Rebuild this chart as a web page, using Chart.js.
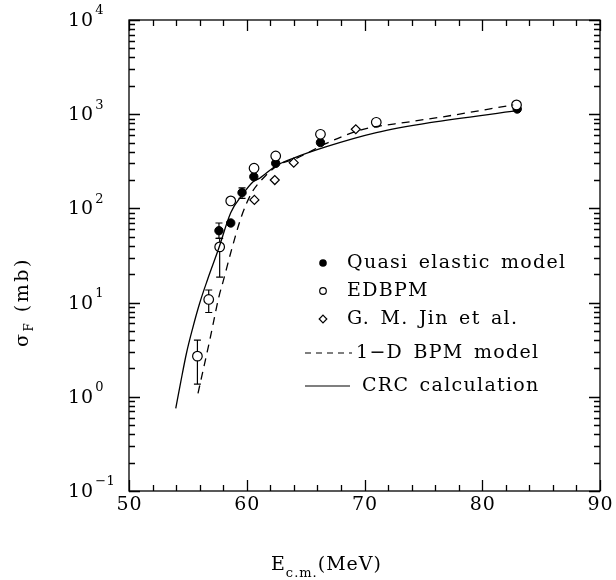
<!DOCTYPE html>
<html><head><meta charset="utf-8">
<script src="https://cdn.jsdelivr.net/npm/chart.js@4"></script>
<style>html,body{margin:0;padding:0;background:#fff}#wrap{width:616px;height:580px}</style>
</head><body><div id="wrap"><canvas id="c" width="616" height="580"></canvas></div>
<script>
// ---- data ----
const quasiE   = [57.64, 58.64, 59.6, 60.6, 62.46, 66.26, 82.97];
const quasiS   = [58, 70, 147, 217, 301, 500, 1135];
const quasiLo  = [48, null, 128, null, null, null, null];
const quasiHi  = [70, null, 165, null, null, null, null];

const edbpmE   = [55.81, 56.77, 57.7, 58.64, 60.62, 62.46, 66.26, 71.0, 82.91];
const edbpmS   = [2.7, 10.8, 39, 120, 267, 360, 612, 820, 1254];
const edbpmLo  = [1.36, 7.85, 18.6, null, null, null, null, null, null];
const edbpmHi  = [4.0, 13.6, 48, null, null, null, null, null, null];

const jinE     = [60.65, 62.38, 63.99, 69.26];
const jinS     = [123, 200, 306, 692];

const bpmE     = [55.86, 56.86, 57.64, 57.99, 58.7, 59.55, 60.4, 61.39, 62.66, 64.22, 66.77, 69.6, 73.85, 76.4, 82.63];
const bpmS     = [1.09, 4.0, 11.6, 16.7, 36, 82, 145, 209, 288, 340, 490, 676, 832, 927, 1254];

const crcE     = [53.97, 54.4, 54.88, 55.4, 56.0, 56.66, 57.6, 58.64, 59.6, 60.54, 61.1, 62.46, 63.93, 66.77, 71.0, 75.55, 82.97];
const crcS     = [0.755, 1.45, 2.9, 5.3, 9.84, 17.4, 37, 90, 138, 192, 209, 282, 340, 452, 637, 813, 1089];

const xMajor = [50, 60, 70, 80, 90];
const yExps  = [-1, 0, 1, 2, 3, 4];

const legendLabels = ["Quasi elastic model", "EDBPM", "G. M. Jin et al.", "1\u2212D BPM model", "CRC calculation"];
const xTitleMain = "E", xTitleSub = "c.m.", xTitleUnit = "(MeV)";
const yTitleMain = "\u03C3", yTitleSub = "F", yTitleUnit = " (mb)";

const pts = (xs, ys) => xs.map((x, i) => ({x: x, y: ys[i]}));
const FONT = '"DejaVu Serif", serif';

function spacing(ctx, ls, ws) {
  ctx.letterSpacing = ls + 'px';
  ctx.wordSpacing = ws + 'px';
}

const decor = {
  id: 'decor',
  beforeDatasetsDraw(chart) {
    const ctx = chart.ctx, xs = chart.scales.x, ys = chart.scales.y;
    ctx.save();
    ctx.strokeStyle = '#000'; ctx.lineWidth = 1.2;
    const bars = [[quasiE, quasiLo, quasiHi], [edbpmE, edbpmLo, edbpmHi]];
    bars.forEach(([E, lo, hi]) => {
      E.forEach((e, i) => {
        if (lo[i] == null) return;
        const px = xs.getPixelForValue(e);
        const y1 = ys.getPixelForValue(lo[i]), y2 = ys.getPixelForValue(hi[i]);
        ctx.beginPath();
        ctx.moveTo(px, y1); ctx.lineTo(px, y2);
        ctx.moveTo(px - 3.5, y1); ctx.lineTo(px + 3.5, y1);
        ctx.moveTo(px - 3.5, y2); ctx.lineTo(px + 3.5, y2);
        ctx.stroke();
      });
    });
    ctx.restore();
  },
  afterDraw(chart) {
    const ctx = chart.ctx, xs = chart.scales.x, ys = chart.scales.y;
    const a = chart.chartArea;
    ctx.save();
    ctx.strokeStyle = '#000'; ctx.fillStyle = '#000'; ctx.lineWidth = 1.3;
    ctx.strokeRect(a.left, a.top, a.right - a.left, a.bottom - a.top);
    ctx.beginPath();
    for (let v = 50; v <= 90; v += 2) {
      const px = Math.round(xs.getPixelForValue(v)) + 0.5;
      const L = (v % 10 === 0) ? 11 : 6;
      ctx.moveTo(px, a.bottom); ctx.lineTo(px, a.bottom - L);
      ctx.moveTo(px, a.top); ctx.lineTo(px, a.top + L);
    }
    for (let e = -1; e <= 4; e++) {
      for (let m = 1; m <= 9; m++) {
        if (e === 4 && m > 1) break;
        const v = m * Math.pow(10, e);
        const py = Math.round(ys.getPixelForValue(v)) + 0.5;
        const L = (m === 1) ? 11 : 6;
        ctx.moveTo(a.left, py); ctx.lineTo(a.left + L, py);
        ctx.moveTo(a.right, py); ctx.lineTo(a.right - L, py);
      }
    }
    ctx.stroke();

    // x tick labels
    ctx.font = '19px ' + FONT; spacing(ctx, 1, 0);
    ctx.textAlign = 'center'; ctx.textBaseline = 'middle';
    xMajor.forEach(v => ctx.fillText(String(v), xs.getPixelForValue(v) + 0.5, a.bottom + 14));
    // y tick labels
    yExps.forEach(e => {
      const py = ys.getPixelForValue(Math.pow(10, e));
      ctx.font = '19px ' + FONT; spacing(ctx, 1, 0);
      ctx.textAlign = 'left'; ctx.textBaseline = 'middle';
      ctx.fillText('10', 68, py + 1);
      const w = ctx.measureText('10').width;
      ctx.font = '13px ' + FONT; spacing(ctx, 0.5, 0);
      ctx.fillText(e < 0 ? '\u2212' + Math.abs(e) : String(e), 68 + w + 1, py - 9);
    });

    // x title
    ctx.textAlign = 'left'; ctx.textBaseline = 'alphabetic';
    ctx.font = '19px ' + FONT; spacing(ctx, 1, 0);
    let x0 = 271;
    ctx.fillText(xTitleMain, x0, 570);
    x0 += ctx.measureText(xTitleMain).width;
    ctx.font = '13px ' + FONT;
    ctx.fillText(xTitleSub, x0, 577);
    x0 += ctx.measureText(xTitleSub).width;
    ctx.font = '19px ' + FONT;
    ctx.fillText(xTitleUnit, x0, 570);

    // y title (rotated)
    ctx.save();
    ctx.translate(28, 347);
    ctx.rotate(-Math.PI / 2);
    ctx.font = '19px ' + FONT; spacing(ctx, 2.5, 4);
    let t0 = 0;
    ctx.fillText(yTitleMain, t0, 0);
    t0 += ctx.measureText(yTitleMain).width;
    ctx.font = '12px ' + FONT;
    ctx.fillText(yTitleSub, t0, 5);
    t0 += ctx.measureText(yTitleSub).width;
    ctx.font = '19px ' + FONT;
    ctx.fillText(yTitleUnit, t0, 0);
    ctx.restore();

    // legend
    ctx.font = '19px ' + FONT; spacing(ctx, 1.3, 3);
    ctx.textAlign = 'left'; ctx.textBaseline = 'middle';
    ctx.lineWidth = 1.2;
    const rows = [263, 291, 319, 353, 386];
    ctx.beginPath(); ctx.arc(323, rows[0], 3.8, 0, Math.PI * 2); ctx.fill();
    ctx.fillText(legendLabels[0], 347, rows[0]);
    ctx.beginPath(); ctx.arc(323, rows[1], 3.3, 0, Math.PI * 2); ctx.stroke();
    ctx.fillText(legendLabels[1], 347, rows[1]);
    ctx.beginPath();
    ctx.moveTo(323, rows[2] - 3.8); ctx.lineTo(326.8, rows[2]); ctx.lineTo(323, rows[2] + 3.8); ctx.lineTo(319.2, rows[2]); ctx.closePath();
    ctx.stroke();
    ctx.fillText(legendLabels[2], 347, rows[2]);
    ctx.setLineDash([6, 5]);
    ctx.beginPath(); ctx.moveTo(305, rows[3]); ctx.lineTo(352, rows[3]); ctx.stroke();
    ctx.setLineDash([]);
    ctx.fillText(legendLabels[3], 356, rows[3]);
    ctx.beginPath(); ctx.moveTo(305, rows[4]); ctx.lineTo(350, rows[4]); ctx.stroke();
    ctx.fillText(legendLabels[4], 362, rows[4]);
    ctx.restore();
  }
};

new Chart(document.getElementById('c'), {
  type: 'scatter',
  data: {
    datasets: [
      { label: 'CRC calculation', data: pts(crcE, crcS), showLine: true, borderColor: '#000', borderWidth: 1.3, pointRadius: 0, cubicInterpolationMode: 'monotone' },
      { label: '1-D BPM model', data: pts(bpmE, bpmS), showLine: true, borderColor: '#000', borderWidth: 1.3, borderDash: [8, 6], pointRadius: 0, cubicInterpolationMode: 'monotone' },
      { label: 'EDBPM', data: pts(edbpmE, edbpmS), pointStyle: 'circle', pointRadius: 4.8, backgroundColor: '#fff', borderColor: '#000', borderWidth: 1.2 },
      { label: 'G. M. Jin et al.', data: pts(jinE, jinS), pointStyle: 'rectRot', pointRadius: 4.5, backgroundColor: '#fff', borderColor: '#000', borderWidth: 1.2 },
      { label: 'Quasi elastic model', data: pts(quasiE, quasiS), pointStyle: 'circle', pointRadius: 4.2, backgroundColor: '#000', borderColor: '#000', borderWidth: 1 }
    ]
  },
  options: {
    responsive: false, devicePixelRatio: 1, animation: false,
    layout: { padding: { left: 129, right: 16, top: 20, bottom: 89 } },
    plugins: { legend: { display: false }, tooltip: { enabled: false } },
    scales: {
      x: { type: 'linear', min: 50, max: 90, grid: { display: false }, border: { display: false }, ticks: { display: false }, afterFit: s => { s.height = 0; } },
      y: { type: 'logarithmic', min: 0.1, max: 10000, grid: { display: false }, border: { display: false }, ticks: { display: false }, afterFit: s => { s.width = 0; } }
    }
  },
  plugins: [decor]
});
</script>
</body></html>
